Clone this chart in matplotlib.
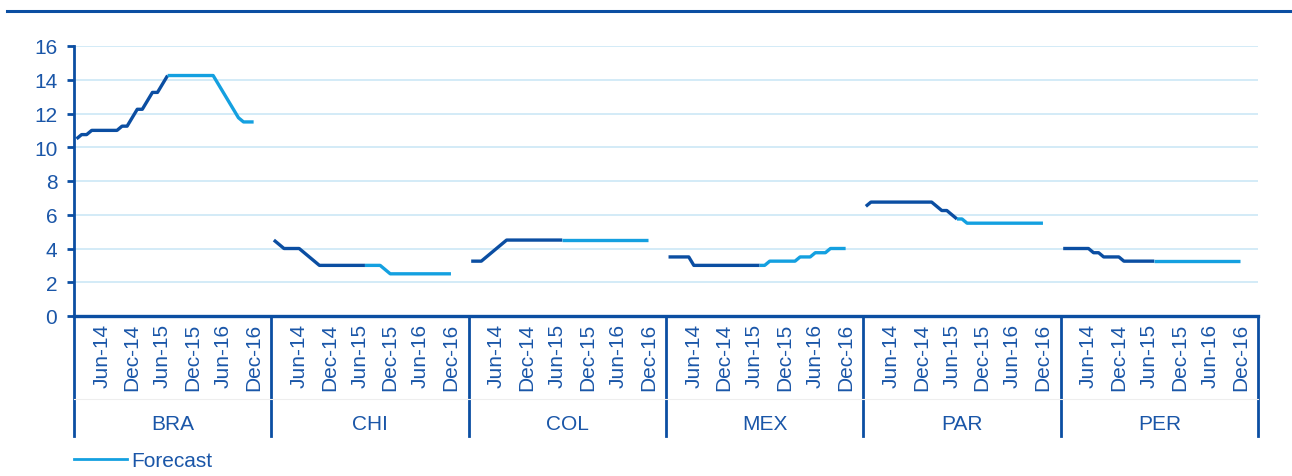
import matplotlib.pyplot as plt
from matplotlib.lines import Line2D

plt.rcParams['font.family'] = ['Liberation Sans', 'DejaVu Sans']

# policy rates, monthly Jan-14 .. Dec-16 (index 0..35); actual up to Jul-15 (index 18)
countries = ['BRA', 'CHI', 'COL', 'MEX', 'PAR', 'PER']
bra = [10.5, 10.75, 10.75, 11, 11, 11, 11, 11, 11, 11.25, 11.25, 11.75,
       12.25, 12.25, 12.75, 13.25, 13.25, 13.75, 14.25, 14.25, 14.25, 14.25, 14.25, 14.25,
       14.25, 14.25, 14.25, 14.25, 13.75, 13.25, 12.75, 12.25, 11.75, 11.5, 11.5, 11.5]
chi = [4.5, 4.25, 4, 4, 4, 4, 3.75, 3.5, 3.25, 3, 3, 3,
       3, 3, 3, 3, 3, 3, 3, 3, 3, 3, 2.75, 2.5,
       2.5, 2.5, 2.5, 2.5, 2.5, 2.5, 2.5, 2.5, 2.5, 2.5, 2.5, 2.5]
col = [3.25, 3.25, 3.25, 3.5, 3.75, 4, 4.25, 4.5, 4.5, 4.5, 4.5, 4.5,
       4.5, 4.5, 4.5, 4.5, 4.5, 4.5, 4.5, 4.5, 4.5, 4.5, 4.5, 4.5,
       4.5, 4.5, 4.5, 4.5, 4.5, 4.5, 4.5, 4.5, 4.5, 4.5, 4.5, 4.5]
mex = [3.5, 3.5, 3.5, 3.5, 3.5, 3, 3, 3, 3, 3, 3, 3,
       3, 3, 3, 3, 3, 3, 3, 3, 3.25, 3.25, 3.25, 3.25,
       3.25, 3.25, 3.5, 3.5, 3.5, 3.75, 3.75, 3.75, 4, 4, 4, 4]
par = [6.5, 6.75, 6.75, 6.75, 6.75, 6.75, 6.75, 6.75, 6.75, 6.75, 6.75, 6.75,
       6.75, 6.75, 6.5, 6.25, 6.25, 6, 5.75, 5.75, 5.5, 5.5, 5.5, 5.5,
       5.5, 5.5, 5.5, 5.5, 5.5, 5.5, 5.5, 5.5, 5.5, 5.5, 5.5, 5.5]
per = [4, 4, 4, 4, 4, 4, 3.75, 3.75, 3.5, 3.5, 3.5, 3.5,
       3.25, 3.25, 3.25, 3.25, 3.25, 3.25, 3.25, 3.25, 3.25, 3.25, 3.25, 3.25,
       3.25, 3.25, 3.25, 3.25, 3.25, 3.25, 3.25, 3.25, 3.25, 3.25, 3.25, 3.25]
series = [bra, chi, col, mex, par, per]
last_actual = 18
tick_months = [5, 11, 17, 23, 29, 35]
tick_labels = ['Jun-14', 'Dec-14', 'Jun-15', 'Dec-15', 'Jun-16', 'Dec-16']
per_group = 39  # 36 months + 3 blank slots

dark = '#0b4ea2'
light = '#14a0e0'
grid = '#c8e6f5'
txt = '#1a56a8'

W, H = 1292, 477
fig = plt.figure(figsize=(W / 100, H / 100), dpi=100)
ax = fig.add_axes([74 / W, (H - 317) / H, (1258 - 74) / W, 270 / H])

for g, vals in enumerate(series):
    x = [g * per_group + i for i in range(len(vals))]
    ax.plot(x[:last_actual + 1], vals[:last_actual + 1], color=dark, lw=2.4,
            solid_capstyle='butt', zorder=3)
    ax.plot(x[last_actual:], vals[last_actual:], color=light, lw=2.4,
            solid_capstyle='butt', zorder=3)

n_total = per_group * len(countries)
ax.set_xlim(-0.5, n_total - 0.5)
ax.set_ylim(0, 16)
ax.set_yticks(range(0, 17, 2))
ax.yaxis.grid(True, color=grid, lw=1.1)
ax.set_axisbelow(True)
ax.tick_params(axis='y', direction='out', length=5, width=2, color=dark,
               labelcolor=txt, labelsize=15, pad=7)
for s in ['top', 'right']:
    ax.spines[s].set_visible(False)
ax.spines['left'].set_color(dark)
ax.spines['left'].set_linewidth(2)
ax.spines['bottom'].set_color(dark)
ax.spines['bottom'].set_linewidth(2.4)

xt, xl = [], []
for g in range(len(countries)):
    for m, lab in zip(tick_months, tick_labels):
        xt.append(g * per_group + m)
        xl.append(lab)
ax.set_xticks(xt)
ax.set_xticklabels(xl, rotation=90, va='top', ha='center')
ax.tick_params(axis='x', length=0, labelcolor=txt, labelsize=15, pad=5)

# multi-level category axis
tr = ax.get_xaxis_transform()
for g in range(len(countries) + 1):
    xb = g * per_group - 0.5
    ax.plot([xb, xb], [0, -0.445], transform=tr, color=dark, lw=2, clip_on=False)
ax.plot([-0.5, n_total - 0.5], [-0.307, -0.307], transform=tr, color='#eeeeee',
        lw=0.8, clip_on=False)
for g, c in enumerate(countries):
    ax.text(g * per_group + (per_group - 1) / 2, -0.4, c, transform=tr,
            ha='center', va='center', color=txt, fontsize=15)

ax.legend(handles=[Line2D([], [], color=light, lw=2)], labels=['Forecast'],
          loc='center left', bbox_to_anchor=(74 / W, 1 - 462 / H),
          bbox_transform=fig.transFigure, frameon=False, fontsize=15,
          borderpad=0, borderaxespad=0, handlelength=2.55, handletextpad=0.2,
          labelcolor=txt)

# top rule
fig.add_artist(Line2D([7 / W, 1], [1 - 11.5 / H, 1 - 11.5 / H],
                      transform=fig.transFigure, color='#0b4ea2', lw=2.2))

fig.savefig('out.png', dpi=100)
